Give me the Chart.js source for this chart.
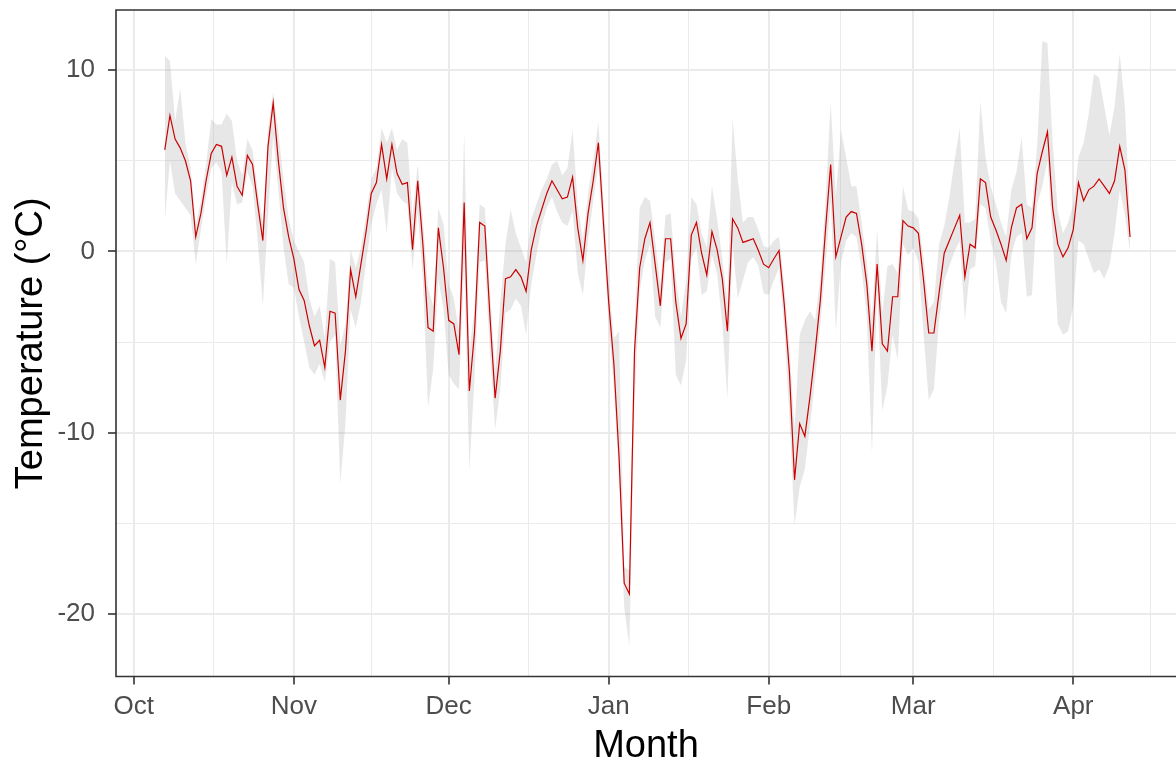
<!DOCTYPE html>
<html>
<head>
<meta charset="utf-8">
<title>Temperature by month</title>
<script src="https://cdn.jsdelivr.net/npm/chart.js@4.4.1/dist/chart.umd.min.js"></script>
<style>
    html, body {
        margin: 0;
        padding: 0;
        background: #ffffff;
        overflow: hidden;
    }
    canvas {
        display: block;
    }
</style>
</head>
<body>
<canvas id="chart" width="1176" height="767"></canvas>
<script>
// day numbers count from 1 October (day 0)
const firstDay = 6;

const monthLabels = ['Oct', 'Nov', 'Dec', 'Jan', 'Feb', 'Mar', 'Apr'];
const monthStarts = [0, 31, 61, 92, 123, 151, 182];
const monthMids = [15.5, 46, 76.5, 107.5, 137, 166.5, 197];

const tempMajorTicks = [-20, -10, 0, 10];
const tempMinorTicks = [-15, -5, 5];

// daily mean temperature, 7 Oct .. 12 Apr
const meanTemp = [
    5.6, 7.5, 6.2, 5.7, 5.0, 3.9, 0.8, 2.1, 3.9, 5.4,
    5.9, 5.8, 4.2, 5.2, 3.6, 3.1, 5.3, 4.8, 2.6, 0.6,
    5.8, 8.2, 5.0, 2.4, 0.8, -0.4, -2.1, -2.7, -4.1, -5.2,
    -4.9, -6.4, -3.3, -3.4, -8.2, -5.5, -1.0, -2.5, -0.7, 1.1,
    3.2, 3.8, 5.9, 4.0, 5.9, 4.3, 3.7, 3.8, 0.1, 3.9,
    0.4, -4.2, -4.4, 1.3, -0.9, -3.8, -4.0, -5.7, 2.7, -7.7,
    -4.5, 1.6, 1.4, -3.6, -8.1, -5.5, -1.5, -1.4, -1.0, -1.4,
    -2.2, 0.1, 1.4, 2.3, 3.2, 3.9, 3.4, 2.9, 3.0, 4.1,
    1.3, -0.5, 2.1, 3.9, 6.0, 1.5, -2.8, -6.2, -11.3, -18.3,
    -18.9, -5.5, -0.9, 0.7, 1.6, -0.7, -3.0, 0.7, 0.7, -2.8,
    -4.8, -4.0, 0.9, 1.6, -0.1, -1.3, 1.1, 0.1, -1.5, -4.4,
    1.8, 1.3, 0.5, 0.6, 0.7, 0.05, -0.7, -0.9, -0.4, 0.05,
    -2.9, -6.6, -12.6, -9.5, -10.2, -8.0, -5.5, -2.7, 1.2, 4.8,
    -0.3, 0.8, 1.9, 2.2, 2.1, 0.4, -1.8, -5.5, -0.7, -5.1,
    -5.5, -2.5, -2.5, 1.7, 1.4, 1.3, 1.0, -1.6, -4.5, -4.5,
    -2.3, -0.1, 0.6, 1.3, 2.0, -1.4, 0.4, 0.2, 4.0, 3.8,
    1.9, 1.2, 0.4, -0.5, 1.3, 2.4, 2.6, 0.7, 1.3, 4.3,
    5.5, 6.6, 2.4, 0.4, -0.3, 0.2, 1.2, 3.8, 2.8, 3.4,
    3.6, 4.0, 3.6, 3.2, 3.9, 5.8, 4.5, 0.8
];

// upper edge of the grey band
const upperTemp = [
    10.8, 10.5, 7.2, 9.0, 6.0, 4.6, 1.5, 2.8, 4.8, 7.3,
    7.0, 7.0, 7.6, 7.2, 5.0, 4.2, 6.2, 5.6, 3.4, 1.6,
    6.8, 8.8, 6.6, 4.0, 1.8, 0.6, 0.0, -0.6, -2.6, -3.6,
    -3.0, -4.8, -0.4, -0.6, -5.2, -4.0, 0.1, -0.9, 0.2, 2.0,
    4.0, 4.6, 6.8, 6.0, 6.8, 5.6, 6.2, 6.0, 2.0, 4.8,
    1.8, -2.0, -3.0, 2.4, 1.5, -1.8, -2.6, -4.4, 6.6, -5.5,
    -3.2, 2.6, 2.4, -2.2, -6.6, -2.8, 0.4, 2.3, 1.0, 0.2,
    -0.6, 1.8, 2.6, 3.4, 4.0, 4.8, 5.0, 4.2, 4.6, 6.7,
    2.6, 0.6, 3.2, 5.0, 7.1, 2.8, -1.6, -4.8, -4.4, -17.4,
    -17.6, -4.2, 2.4, 3.0, 2.8, 0.6, -1.8, 2.0, 2.1, -1.4,
    -3.6, -1.6, 3.0, 2.6, 1.0, 0.2, 3.6, 1.8, -0.4, -2.8,
    7.3, 4.0, 1.6, 1.9, 1.9, 1.2, 0.3, 0.2, 0.6, 0.8,
    -1.8, -5.2, -9.8, -4.6, -3.8, -3.3, -3.8, -1.4, 2.8, 8.2,
    3.0, 6.7, 5.2, 3.6, 3.6, 1.6, -0.6, -3.6, 1.2, -3.4,
    -0.8, -0.7, -1.2, 3.6, 2.3, 2.2, 1.8, -0.4, -3.2, -2.8,
    0.4, 1.4, 3.0, 5.0, 6.8, 1.6, 1.6, 1.8, 8.3, 5.2,
    3.6, 2.6, 1.6, 0.8, 3.4, 4.4, 6.3, 2.6, 2.4, 5.8,
    11.6, 11.5, 6.0, 2.2, 1.0, 1.6, 2.6, 5.2, 6.0, 7.6,
    9.8, 9.6, 8.0, 6.4, 8.0, 10.9, 8.0, 1.8
];

// lower edge of the grey band
const lowerTemp = [
    1.7, 5.0, 3.2, 2.8, 2.4, 2.0, -0.7, 1.2, 3.0, 4.6,
    4.9, 4.4, -0.7, 3.8, 2.6, 2.7, 4.4, 3.6, 0.6, -3.0,
    2.0, 6.4, 3.4, 0.2, -1.8, -2.0, -3.6, -5.0, -6.4, -6.8,
    -6.2, -7.2, -5.0, -4.6, -12.8, -9.5, -3.2, -4.2, -2.8, -0.6,
    1.5, 2.6, 3.4, 1.0, 4.6, 3.2, 2.8, 2.6, -1.0, 2.2,
    -1.6, -8.6, -6.5, -1.5, -3.2, -6.8, -7.3, -7.6, -0.6, -12.1,
    -7.0, -0.6, -0.5, -5.6, -9.8, -7.6, -3.4, -3.2, -2.6, -3.0,
    -4.6, -1.8, -0.2, 1.4, 2.4, 3.0, 2.2, 1.6, 1.4, 2.2,
    -1.2, -2.4, 0.6, 2.8, 4.8, 0.4, -4.0, -7.6, -12.6, -19.6,
    -21.8, -8.6, -2.2, -0.5, 0.4, -3.6, -4.2, -0.6, -0.4, -6.8,
    -7.4, -6.0, -0.4, 0.2, -2.4, -2.2, -0.2, -1.2, -4.0, -8.1,
    0.4, -2.6, -1.6, -0.6, -0.3, -0.8, -2.3, -2.4, -1.6, -0.9,
    -4.2, -9.0, -15.1, -13.0, -12.0, -9.6, -7.0, -4.0, -0.8, 2.8,
    -4.4, -0.6, 0.6, 1.0, 0.8, -1.0, -3.6, -11.1, -2.2, -8.8,
    -7.4, -4.6, -6.0, 0.4, -0.2, 0.2, -0.6, -4.6, -8.2, -7.6,
    -3.8, -1.6, -0.8, 0.0, 0.6, -3.8, -1.0, -0.8, 2.6, 2.4,
    0.6, -0.6, -2.8, -3.4, -0.2, 0.8, 1.0, -2.5, -2.4, 2.6,
    3.6, 5.0, 0.8, -4.0, -4.6, -4.4, -3.0, 0.6, 0.4, -0.4,
    -1.2, -1.0, -1.5, -0.8, 1.0, 3.4, 2.0, 0.0
];

function toPoints(values) {
    return values.map((v, i) => ({ x: firstDay + i, y: v }));
}

function monthTick(value) {
    const i = monthStarts.indexOf(value);
    return i >= 0 ? monthLabels[i] : '';
}

const FONT = "'Liberation Sans', Arial, sans-serif";
const GRID = '#ebebeb';
const DARK = '#333333';

// ggplot-like panel border (left, top, bottom; right edge is cut off)
const panelBorder = {
    id: 'panelBorder',
    afterDraw(chart) {
        const { ctx, chartArea } = chart;
        ctx.save();
        ctx.strokeStyle = DARK;
        ctx.lineWidth = 1.6;
        ctx.beginPath();
        ctx.moveTo(chartArea.right + 2, chartArea.top);
        ctx.lineTo(chartArea.left, chartArea.top);
        ctx.lineTo(chartArea.left, chartArea.bottom);
        ctx.lineTo(chartArea.right + 2, chartArea.bottom);
        ctx.stroke();
        ctx.restore();
    }
};

new Chart(document.getElementById('chart'), {
    type: 'line',
    data: {
        datasets: [{
            label: 'Temperature',
            data: toPoints(meanTemp),
            borderColor: '#cc0000',
            borderWidth: 1.2,
            pointRadius: 0,
            tension: 0,
            fill: false
        }, {
            label: 'Upper',
            data: toPoints(upperTemp),
            borderWidth: 0,
            borderColor: 'rgba(0,0,0,0)',
            pointRadius: 0,
            tension: 0,
            backgroundColor: 'rgba(170,170,170,0.28)',
            fill: '+1'
        }, {
            label: 'Lower',
            data: toPoints(lowerTemp),
            borderWidth: 0,
            borderColor: 'rgba(0,0,0,0)',
            pointRadius: 0,
            tension: 0,
            fill: false
        }]
    },
    options: {
        responsive: false,
        animation: false,
        devicePixelRatio: 1,
        layout: {
            padding: { left: 0, right: 0, top: 10, bottom: 0 }
        },
        plugins: {
            legend: { display: false },
            tooltip: { enabled: false }
        },
        scales: {
            x: {
                type: 'linear',
                min: -3.45,
                max: 201.9,
                afterBuildTicks: (scale) => {
                    scale.ticks = monthStarts.concat(monthMids).sort((a, b) => a - b)
                        .map(v => ({ value: v }));
                },
                afterFit: (scale) => {
                    scale.height = 90.5;
                    scale.paddingLeft = 0;
                    scale.paddingRight = 0;
                },
                ticks: {
                    autoSkip: false,
                    maxRotation: 0,
                    padding: 7,
                    color: '#4d4d4d',
                    font: { family: FONT, size: 26 },
                    callback: (value) => monthTick(value)
                },
                grid: {
                    color: GRID,
                    lineWidth: (c) => monthStarts.includes(c.tick.value) ? 2 : 1,
                    tickColor: (c) => monthStarts.includes(c.tick.value) ? DARK : 'rgba(0,0,0,0)',
                    tickWidth: 1.6,
                    tickLength: 8
                },
                border: { display: false },
                title: {
                    display: true,
                    text: 'Month',
                    color: '#000000',
                    font: { family: FONT, size: 38 },
                    padding: { top: 0, bottom: -2 }
                }
            },
            y: {
                min: -23.45,
                max: 13.32,
                afterBuildTicks: (scale) => {
                    scale.ticks = tempMajorTicks.concat(tempMinorTicks).sort((a, b) => a - b)
                        .map(v => ({ value: v }));
                },
                afterFit: (scale) => {
                    scale.width = 116;
                    // ticks sit away from the edges, so no label overhang padding
                    scale.paddingTop = 0;
                    scale.paddingBottom = 0;
                },
                ticks: {
                    padding: 13,
                    color: '#4d4d4d',
                    font: { family: FONT, size: 26 },
                    callback: (value) => tempMajorTicks.includes(value) ? String(value) : ''
                },
                grid: {
                    color: GRID,
                    lineWidth: (c) => tempMajorTicks.includes(c.tick.value) ? 2 : 1,
                    tickColor: (c) => tempMajorTicks.includes(c.tick.value) ? DARK : 'rgba(0,0,0,0)',
                    tickWidth: 1.6,
                    tickLength: 8
                },
                border: { display: false },
                title: {
                    display: true,
                    text: 'Temperature (°C)',
                    color: '#000000',
                    font: { family: FONT, size: 38 },
                    padding: { top: 9, bottom: 0 }
                }
            }
        }
    },
    plugins: [panelBorder]
});
</script>
</body>
</html>
